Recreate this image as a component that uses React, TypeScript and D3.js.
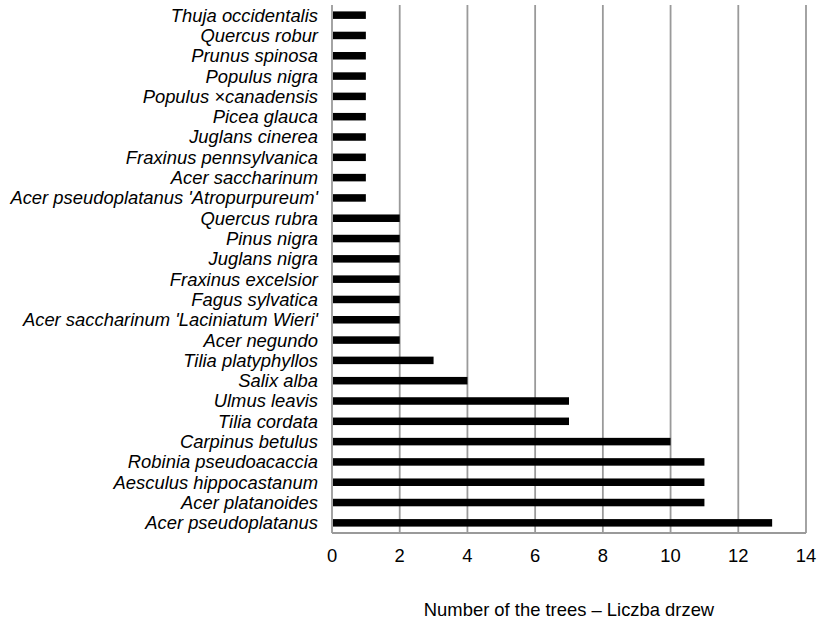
import React from "react";
import * as d3 from "d3";

const species = [
  "Thuja occidentalis",
  "Quercus robur",
  "Prunus spinosa",
  "Populus nigra",
  "Populus ×canadensis",
  "Picea glauca",
  "Juglans cinerea",
  "Fraxinus pennsylvanica",
  "Acer saccharinum",
  "Acer pseudoplatanus 'Atropurpureum'",
  "Quercus rubra",
  "Pinus nigra",
  "Juglans nigra",
  "Fraxinus excelsior",
  "Fagus sylvatica",
  "Acer saccharinum 'Laciniatum Wieri'",
  "Acer negundo",
  "Tilia platyphyllos",
  "Salix alba",
  "Ulmus leavis",
  "Tilia cordata",
  "Carpinus betulus",
  "Robinia pseudoacaccia",
  "Aesculus hippocastanum",
  "Acer platanoides",
  "Acer pseudoplatanus",
];
const counts = [1, 1, 1, 1, 1, 1, 1, 1, 1, 1, 2, 2, 2, 2, 2, 2, 2, 3, 4, 7, 7, 10, 11, 11, 11, 13];
const xTicks = [0, 2, 4, 6, 8, 10, 12, 14];
const axisTitle = "Number of the trees – Liczba drzew";

const W = 840;
const H = 620;
const left = 332;
const right = 806;
const top = 5;
const bottom = 533;

export default function App() {
  const x = d3.scaleLinear().domain([0, 14]).range([left, right]);
  const y = d3.scaleBand<string>().domain(species).range([top, bottom]).paddingInner(0.63).paddingOuter(0.315);
  const font = "'Liberation Sans', Arial, sans-serif";
  const grid = "#9a9a9a";
  return (
    <svg width={W} height={H} style={{ position: "absolute", left: 0, top: 0 }}>
      <rect width={W} height={H} fill="#fff" />
      {xTicks.map((t) => (
        <line key={"g" + t} x1={x(t)} x2={x(t)} y1={top} y2={bottom} stroke={grid} strokeWidth={1.8} />
      ))}
      <line x1={left} x2={right} y1={bottom} y2={bottom} stroke={grid} strokeWidth={1.8} />
      {species.map((s, i) => (
        <rect key={s} x={x(0) + 1} y={y(s)!} width={x(counts[i]) - x(0) - 1} height={y.bandwidth()} fill="#000" />
      ))}
      {species.map((s) => (
        <text
          key={"l" + s}
          x={318}
          y={y(s)! + y.bandwidth() / 2}
          dy="0.35em"
          textAnchor="end"
          fontFamily={font}
          fontStyle="italic"
          fontSize={18.4}
          fill="#000"
        >
          {s}
        </text>
      ))}
      {xTicks.map((t) => (
        <text key={"t" + t} x={x(t)} y={561.5} textAnchor="middle" fontFamily={font} fontSize={18.4} fill="#000">
          {t}
        </text>
      ))}
      <text x={(left + right) / 2} y={616} textAnchor="middle" fontFamily={font} fontSize={18.4} fill="#000">
        {axisTitle}
      </text>
    </svg>
  );
}
